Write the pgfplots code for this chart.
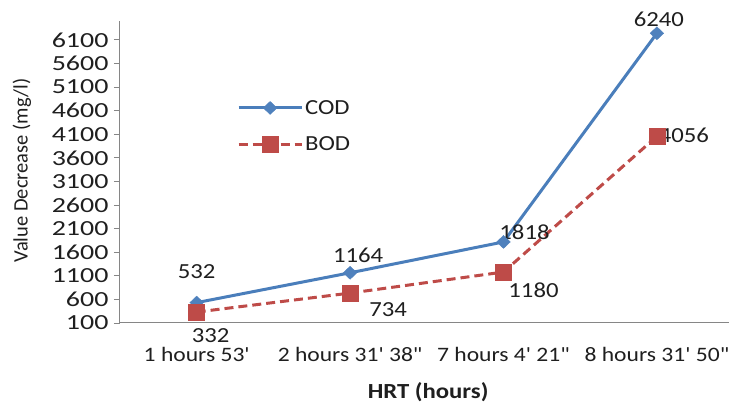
\documentclass[border=0pt]{standalone}
\usepackage{fontspec}
\setmainfont{Carlito}[FakeStretch=1.15, Ligatures=TeXOff]
\newfontfamily\ylabfont{Carlito}[Ligatures=TeXOff]
\newfontfamily\tickfont{Carlito}[FakeStretch=1.3]
\usepackage{pgfplots}
\pgfplotsset{compat=1.18}
\definecolor{codblue}{HTML}{4A7EBB}
\definecolor{codmark}{HTML}{4F81BD}
\definecolor{bodred}{HTML}{BE4B48}
\definecolor{axgray}{HTML}{868686}
\definecolor{txt}{HTML}{1F1F1F}
\newcommand{\fs}{\fontsize{21.5}{24}\selectfont}
\begin{document}
\begin{tikzpicture}
\useasboundingbox (0,0) rectangle (729pt,403pt);
\begin{axis}[
  at={(120pt,80pt)}, anchor=south west,
  scale only axis, width=609pt, height=302pt,
  xmin=-0.5, xmax=3.47, ymin=100, ymax=6500,
  axis x line*=bottom, axis y line*=left,
  axis line style={axgray, line width=1pt},
  xtick={0,1,2,3},
  xticklabels={1 hours 53', 2 hours 31' 38", 7 hours 4' 21", 8 hours 31' 50"},
  xtick style={draw=none},
  xticklabel style={yshift=-15pt, font=\fontsize{20.5}{24}\selectfont},
  ytick={100,600,...,6100},
  yticklabel={\pgfmathprintnumber[assume math mode=true]{\tick}},
  yticklabel style={font=\tickfont\fontsize{21.5}{24}\selectfont, text=txt, xshift=-2pt},
  tick align=outside,
  ytick style={axgray, line width=0.8pt},
  major tick length=6pt,
  tick label style={text=txt},
  /pgf/number format/assume math mode=true,
  /pgf/number format/1000 sep={},
  clip=false,
  xlabel={\textbf{HRT (hours)}},
  xlabel style={at={(axis description cs:0.506,-0.228)}, anchor=center, font=\fs, text=txt},
  ylabel={\ylabfont Value Decrease (mg/l)},
  ylabel style={at={(axis description cs:-0.161,0.505)}, anchor=center, font=\fontsize{20.5}{22}\selectfont, text=txt},
  legend style={draw=none, fill=none, at={(axis description cs:0.192,0.745)}, anchor=north west,
    font=\fs, text=txt, row sep=17pt, inner sep=0pt},
  legend cell align=left,
  legend image code/.code={\draw[mark repeat=2, mark phase=2, #1] plot coordinates {(0pt,0pt) (31.5pt,0pt) (63pt,0pt)};},
]
\addplot[codblue, line width=3pt, mark=diamond*, mark size=6.5pt,
  mark options={xscale=1.4, fill=codmark, draw=codmark, line width=0.4pt}]
  coordinates {(0,532) (1,1164) (2,1818) (3,6240)};
\addlegendentry{COD}
\addplot[bodred, line width=3pt, dash pattern=on 9pt off 5pt, mark=square*, mark size=8pt,
  mark options={solid, fill=bodred, draw=bodred, line width=0.4pt}]
  coordinates {(0,332) (1,734) (2,1180) (3,4056)};
\addlegendentry{BOD}
\begin{scope}[every node/.style={font=\fs, text=txt}]
\node[yshift=30.6pt] at (axis cs:0,532) {532};
\node[xshift=8pt, yshift=17pt] at (axis cs:1,1164) {1164};
\node[xshift=21pt, yshift=10pt] at (axis cs:2,1818) {1818};
\node[xshift=2pt, yshift=14pt] at (axis cs:3,6240) {6240};
\node[xshift=14pt, yshift=-24pt] at (axis cs:0,332) {332};
\node[xshift=38pt, yshift=-17pt] at (axis cs:1,734) {734};
\node[xshift=30pt, yshift=-18pt] at (axis cs:2,1180) {1180};
\node[xshift=27pt, yshift=1pt] at (axis cs:3,4056) {4056};
\end{scope}
\end{axis}
\end{tikzpicture}
\end{document}
